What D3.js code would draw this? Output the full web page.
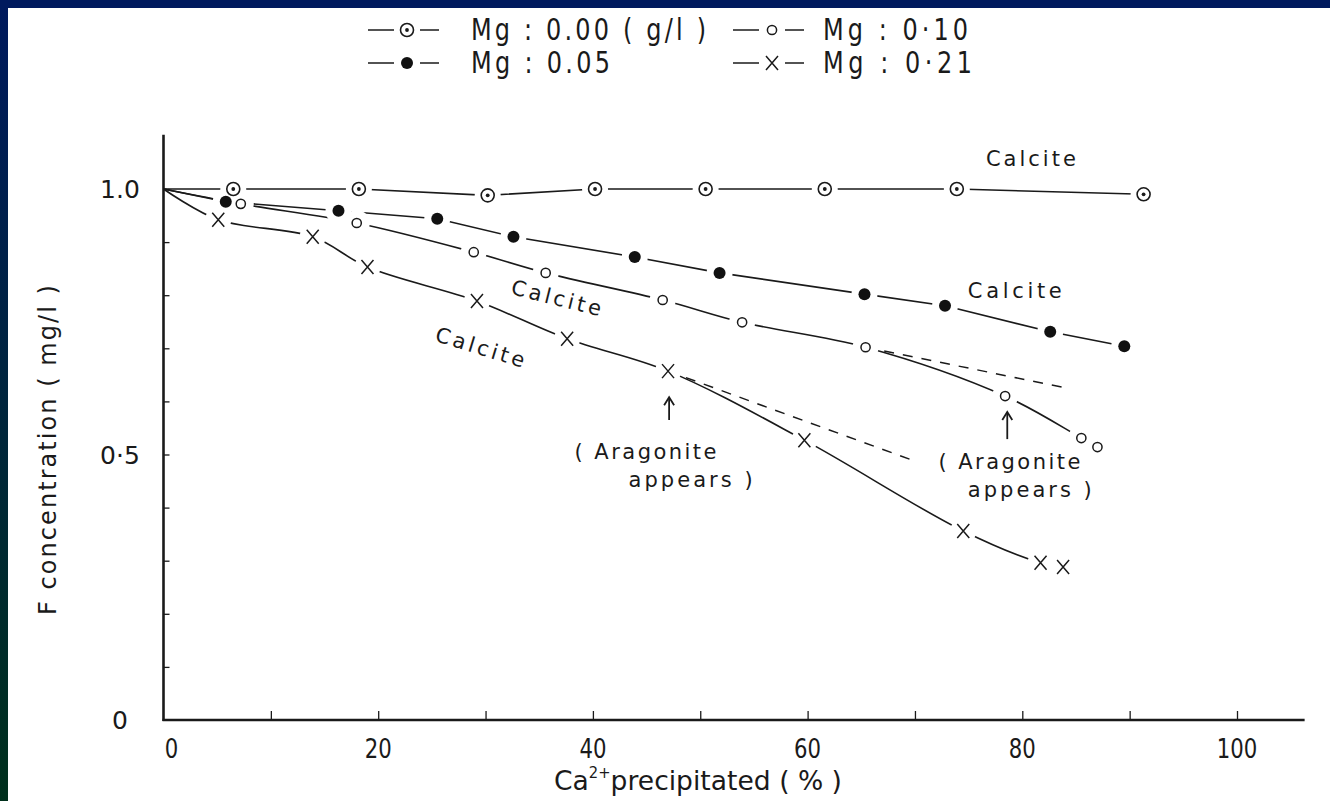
<!DOCTYPE html>
<html>
<head>
<meta charset="utf-8">
<script src="https://cdn.jsdelivr.net/npm/d3@7"></script>
<style>
body { margin: 0; background: #fff; }
text { font-family: "DejaVu Sans", "Liberation Sans", sans-serif; fill: #1a1a1a; }
</style>
</head>
<body>
<svg id="chart"></svg>
<script>
// Ca2+ precipitated (%) against F concentration (mg/l), one pair of arrays per Mg level
var startPoint = [0, 1.0];

var mg000x = [6.5, 18.2, 30.2, 40.2, 50.5, 61.6, 73.9, 91.3];
var mg000y = [1.0, 1.0, 0.988, 1.0, 1.0, 1.0, 1.0, 0.99];

var mg005x = [5.8, 16.3, 25.5, 32.6, 43.9, 51.8, 65.3, 72.8, 82.6, 89.5];
var mg005y = [0.976, 0.959, 0.944, 0.910, 0.872, 0.842, 0.802, 0.780, 0.731, 0.704];

var mg010x = [7.2, 18.0, 28.9, 35.6, 46.5, 53.9, 65.4, 78.4, 85.5, 87.0];
var mg010y = [0.972, 0.936, 0.881, 0.842, 0.791, 0.749, 0.702, 0.610, 0.531, 0.514];

var mg021x = [5.1, 13.9, 19.0, 29.2, 37.6, 47.0, 59.7, 74.5, 81.7, 83.8];
var mg021y = [0.942, 0.910, 0.853, 0.789, 0.718, 0.657, 0.527, 0.356, 0.296, 0.288];

// dashed "calcite only" extensions after aragonite appears
var dash010x = [65.4, 83.7];
var dash010y = [0.702, 0.627];
var dash021x = [47.0, 70.2];
var dash021y = [0.657, 0.486];

var xTicks = [10, 20, 30, 40, 50, 60, 70, 80, 90, 100];
var xTickLabels = [0, 20, 40, 60, 80, 100];
var yTicks = [0.1, 0.2, 0.3, 0.4, 0.5, 0.6, 0.7, 0.8, 0.9, 1.0];
var yTickLabels = { 0: "0", 0.5: "0·5", 1: "1.0" };

var W = 1330, H = 801;
var svg = d3.select('#chart').attr('width', W).attr('height', H);

// slide frame: navy band on top, gradient band on the left
var defs = svg.append('defs');
var grad = defs.append('linearGradient').attr('id', 'edge').attr('x1', 0).attr('y1', 0).attr('x2', 0).attr('y2', 1);
grad.append('stop').attr('offset', '0%').attr('stop-color', '#001a5e');
grad.append('stop').attr('offset', '100%').attr('stop-color', '#00301c');
svg.append('rect').attr('x', 0).attr('y', 0).attr('width', W).attr('height', H).attr('fill', '#fff');
svg.append('rect').attr('x', 0).attr('y', 0).attr('width', 8).attr('height', H).attr('fill', 'url(#edge)');
svg.append('rect').attr('x', 0).attr('y', 0).attr('width', W).attr('height', 8).attr('fill', '#001a5e');

var x = d3.scaleLinear().domain([0, 100]).range([163.5, 1237]);
var y = d3.scaleLinear().domain([0, 1]).range([720, 189]);

var ink = '#1a1a1a';
var plot = svg.append('g');

// axes
var xAxis = d3.axisBottom(x).tickValues(xTicks).tickSizeInner(-9).tickSizeOuter(0).tickFormat('');
plot.append('g').attr('transform', 'translate(0,' + y(0) + ')').call(xAxis)
    .call(function(g) { g.select('.domain').remove(); })
    .selectAll('line').attr('stroke', ink).attr('stroke-width', 1.3);
plot.append('line').attr('x1', x(0) - 1).attr('x2', x(106.3)).attr('y1', y(0)).attr('y2', y(0))
    .attr('stroke', ink).attr('stroke-width', 2.6);

var yAxis = d3.axisLeft(y).tickValues(yTicks).tickSizeInner(-6).tickSizeOuter(0).tickFormat('');
plot.append('g').attr('transform', 'translate(' + x(0) + ',0)').call(yAxis)
    .call(function(g) { g.select('.domain').remove(); })
    .selectAll('line').attr('stroke', ink).attr('stroke-width', 1.3);
plot.append('line').attr('x1', x(0)).attr('x2', x(0)).attr('y1', y(0) + 1).attr('y2', y(1.102))
    .attr('stroke', ink).attr('stroke-width', 2.6);

plot.selectAll('.xlab').data(xTickLabels).enter().append('text')
    .attr('x', function(d) { return x(d) + (d === 0 ? 8 : 0); })
    .attr('y', 758)
    .attr('text-anchor', 'middle')
    .attr('font-size', 27)
    .attr('textLength', function(d) { return String(d).length * 13.5; })
    .attr('lengthAdjust', 'spacingAndGlyphs')
    .text(function(d) { return d; });

plot.selectAll('.ylab').data([0, 0.5, 1]).enter().append('text')
    .attr('x', 120)
    .attr('y', function(d) { return y(d) + 9; })
    .attr('text-anchor', 'middle')
    .attr('font-size', 25)
    .text(function(d) { return yTickLabels[d]; });

svg.append('text')
    .attr('transform', 'translate(56,450) rotate(-90)')
    .attr('text-anchor', 'middle')
    .attr('font-size', 24)
    .attr('textLength', 330)
    .attr('lengthAdjust', 'spacing')
    .text('F concentration ( mg/l )');

var xt = svg.append('text')
    .attr('x', 698).attr('y', 790)
    .attr('text-anchor', 'middle')
    .attr('font-size', 27)
    .attr('textLength', 288)
    .attr('lengthAdjust', 'spacingAndGlyphs');
xt.append('tspan').text('Ca');
xt.append('tspan').attr('dy', -12).attr('font-size', 15).text('2+');
xt.append('tspan').attr('dy', 12).text('precipitated ( % )');

// lines: straight for the first two series, gently bent for the aragonite ones
var lineStraight = d3.line().x(function(d) { return x(d[0]); }).y(function(d) { return y(d[1]); });
var lineBent = d3.line().x(function(d) { return x(d[0]); }).y(function(d) { return y(d[1]); }).curve(d3.curveCatmullRom.alpha(0.5));
function pts(xs, ys, withStart) {
    var p = xs.map(function(v, i) { return [v, ys[i]]; });
    return withStart ? [startPoint].concat(p) : p;
}

var series = [
    { xs: mg000x, ys: mg000y, m: 'dot', gen: lineStraight },
    { xs: mg005x, ys: mg005y, m: 'filled', gen: lineStraight },
    { xs: mg010x, ys: mg010y, m: 'open', gen: lineBent },
    { xs: mg021x, ys: mg021y, m: 'cross', gen: lineBent }
];

series.forEach(function(s) {
    plot.append('path').attr('d', s.gen(pts(s.xs, s.ys, true)))
        .attr('fill', 'none').attr('stroke', ink).attr('stroke-width', 1.6);
});
[[dash010x, dash010y], [dash021x, dash021y]].forEach(function(d) {
    plot.append('path').attr('d', lineStraight(pts(d[0], d[1], false)))
        .attr('fill', 'none').attr('stroke', ink).attr('stroke-width', 1.5).attr('stroke-dasharray', '10,9');
});

// white gaps round every marker, then the markers
series.forEach(function(s) {
    plot.selectAll(null).data(pts(s.xs, s.ys, false)).enter().append('circle')
        .attr('cx', function(d) { return x(d[0]); }).attr('cy', function(d) { return y(d[1]); })
        .attr('r', 13).attr('fill', '#fff');
});

function marker(g, type, cx, cy) {
    if (type === 'dot') {
        g.append('circle').attr('cx', cx).attr('cy', cy).attr('r', 6.5).attr('fill', '#fff').attr('stroke', ink).attr('stroke-width', 1.6);
        g.append('circle').attr('cx', cx).attr('cy', cy).attr('r', 1.9).attr('fill', ink);
    } else if (type === 'filled') {
        g.append('circle').attr('cx', cx).attr('cy', cy).attr('r', 6).attr('fill', '#111');
    } else if (type === 'open') {
        g.append('circle').attr('cx', cx).attr('cy', cy).attr('r', 4.6).attr('fill', '#fff').attr('stroke', ink).attr('stroke-width', 1.5);
    } else {
        g.append('path').attr('d', 'M' + (cx - 6) + ',' + (cy - 7) + 'L' + (cx + 6) + ',' + (cy + 7) + 'M' + (cx + 6) + ',' + (cy - 7) + 'L' + (cx - 6) + ',' + (cy + 7))
            .attr('stroke', ink).attr('stroke-width', 1.5).attr('fill', 'none');
    }
}
series.forEach(function(s) {
    pts(s.xs, s.ys, false).forEach(function(p) { marker(plot, s.m, x(p[0]), y(p[1])); });
});

// annotations
function label(txt, cx, cy, rot, len) {
    svg.append('text')
        .attr('transform', 'translate(' + x(cx) + ',' + y(cy) + ') rotate(' + rot + ')')
        .attr('text-anchor', 'middle').attr('dy', '0.35em')
        .attr('font-size', 21)
        .attr('textLength', len).attr('lengthAdjust', 'spacing')
        .text(txt);
}
label('Calcite', 80.8, 1.057, 0, 90);
label('Calcite', 79.3, 0.808, 0, 94);
label('Calcite', 36.6, 0.795, 14, 92);
label('Calcite', 29.5, 0.702, 17, 92);
label('( Aragonite', 44.9, 0.505, 0, 142);
label('appears )', 49.1, 0.452, 0, 124);
label('( Aragonite', 78.8, 0.486, 0, 142);
label('appears )', 80.7, 0.433, 0, 124);

function arrow(ax, yTip, yTail) {
    var px = x(ax);
    plot.append('line').attr('x1', px).attr('x2', px).attr('y1', y(yTip) + 1).attr('y2', y(yTail))
        .attr('stroke', ink).attr('stroke-width', 1.8);
    plot.append('path').attr('d', 'M' + (px - 5) + ',' + (y(yTip) + 8) + 'L' + px + ',' + y(yTip) + 'L' + (px + 5) + ',' + (y(yTip) + 8))
        .attr('fill', 'none').attr('stroke', ink).attr('stroke-width', 1.8);
}
arrow(47.1, 0.608, 0.565);
arrow(78.6, 0.580, 0.529);

// legend: condensed lettering, squeezed horizontally
var legendRows = [
    { m: 'dot', txt: 'Mg : 0.00 ( g/l )', sx: 368, tx: 471, ty: 30, len: 235 },
    { m: 'open', txt: 'Mg : 0·10', sx: 733, tx: 823, ty: 30, len: 145 },
    { m: 'filled', txt: 'Mg : 0.05', sx: 368, tx: 471, ty: 63, len: 139 },
    { m: 'cross', txt: 'Mg : 0·21', sx: 733, tx: 823, ty: 63, len: 149 }
];
var squeeze = 0.8;
var leg = svg.append('g');
legendRows.forEach(function(r) {
    leg.append('line').attr('x1', r.sx).attr('x2', r.sx + 26).attr('y1', r.ty).attr('y2', r.ty).attr('stroke', ink).attr('stroke-width', 1.5);
    leg.append('line').attr('x1', r.sx + 52).attr('x2', r.sx + 71).attr('y1', r.ty).attr('y2', r.ty).attr('stroke', ink).attr('stroke-width', 1.5);
    marker(leg, r.m, r.sx + 39, r.ty);
    leg.append('text')
        .attr('transform', 'translate(' + r.tx + ',' + (r.ty + 10) + ') scale(' + squeeze + ',1)')
        .attr('font-size', 30)
        .attr('textLength', r.len / squeeze).attr('lengthAdjust', 'spacing')
        .text(r.txt);
});
</script>
</body>
</html>
